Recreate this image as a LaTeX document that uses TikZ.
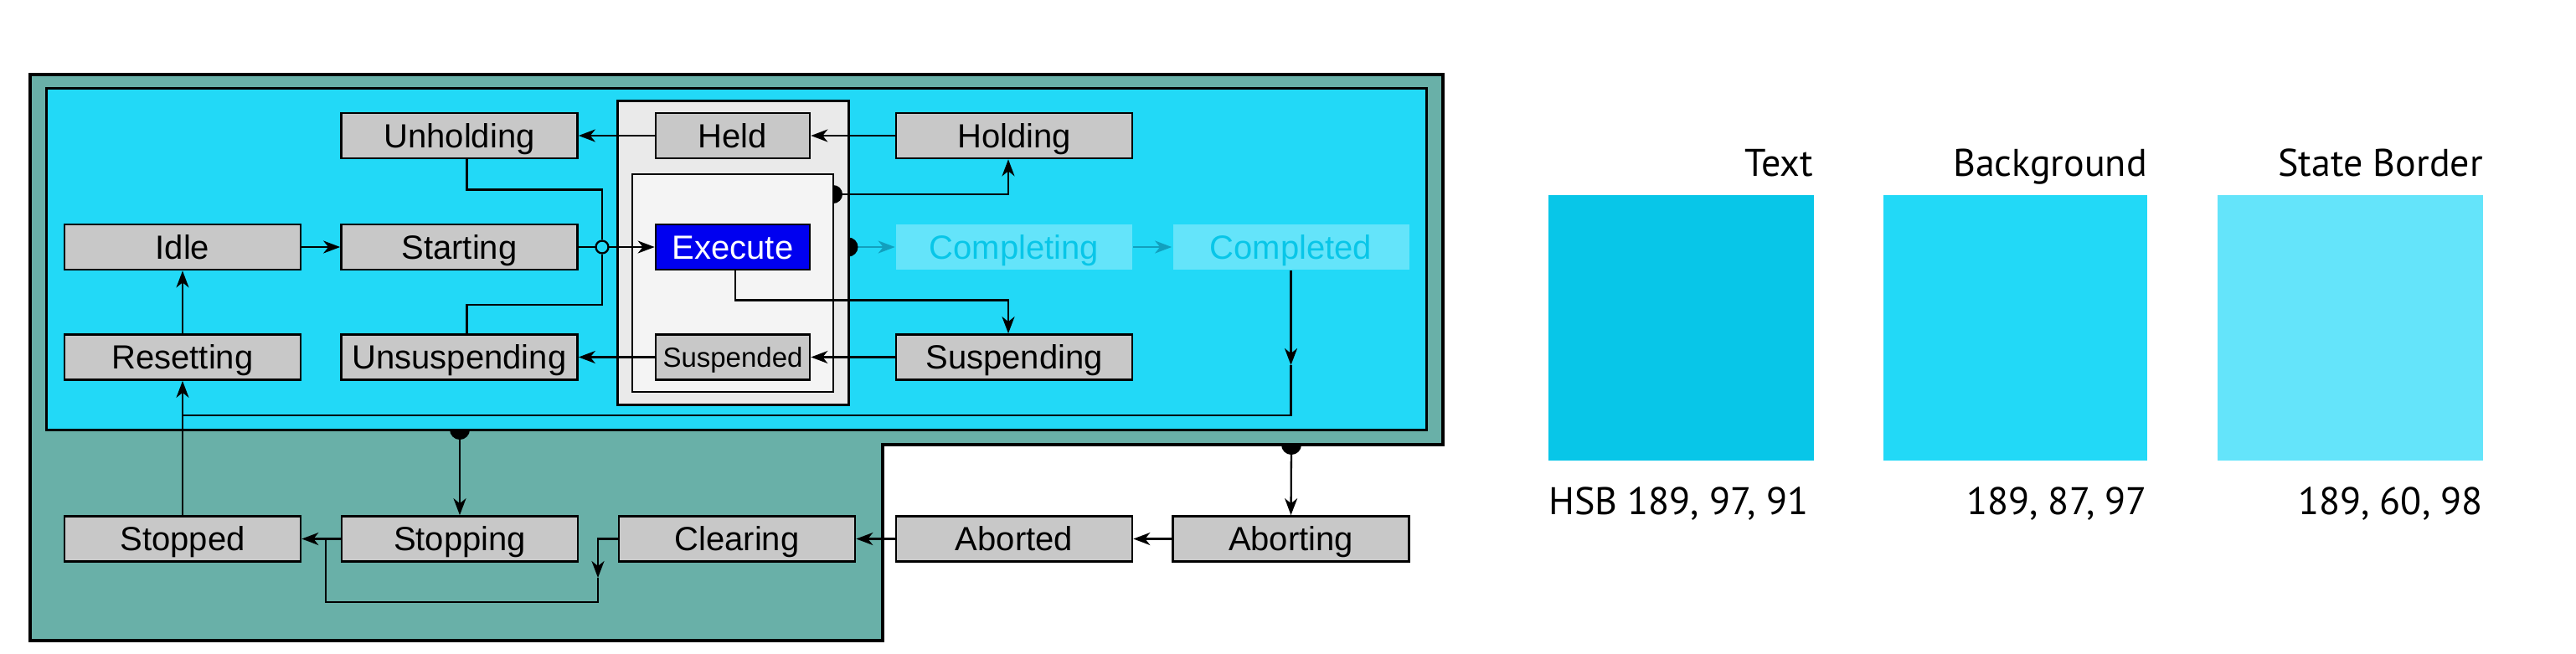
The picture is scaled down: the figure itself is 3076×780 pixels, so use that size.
\documentclass[tikz,border=0pt]{standalone}
\usepackage{fontspec}
\setmainfont{Liberation Sans}
\newfontfamily\legendfont{PT Sans}
\usetikzlibrary{arrows.meta}
\definecolor{teal1}{RGB}{105,176,168}
\definecolor{bgcyan}{RGB}{34,217,247}
\definecolor{txtcyan}{RGB}{8,198,232}
\definecolor{bordcyan}{RGB}{100,228,250}
\definecolor{arrcyan}{RGB}{18,160,190}
\definecolor{stgray}{RGB}{200,200,200}
\definecolor{boxA}{RGB}{234,234,234}
\definecolor{boxB}{RGB}{244,244,244}
\definecolor{exblue}{RGB}{0,0,240}
\begin{document}
\begin{tikzpicture}[x=1pt,y=-1pt,
  stbox/.style={draw=black, line width=2.7pt, fill=stgray, minimum width=282pt, minimum height=54pt,
    inner sep=0pt, text height=28.6pt, text depth=0pt, font=\fontsize{40}{48}\selectfont},
  narrowbox/.style={minimum width=184pt},
  ghost/.style={draw=none, fill=bordcyan, text=txtcyan},
  wire/.style={draw=black, line width=2.3pt},
  conn/.style={wire, -{Stealth[length=20pt,width=15pt,inset=6pt]}},
  cconn/.style={draw=arrcyan, line width=2.6pt, -{Stealth[length=20pt,width=15pt,inset=6pt]}},
  legtext/.style={font=\legendfont\fontsize{46}{54}\selectfont, inner sep=0pt},
  jcirc/.style={circle, draw=black, line width=2.3pt, fill=bgcyan, minimum size=15pt, inner sep=0pt}
]
\useasboundingbox (0,0) rectangle (3076,780);

% containers
\draw[line width=4.5pt, fill=teal1] (36,89) -- (1723,89) -- (1723,531) -- (1054,531) -- (1054,765) -- (36,765) -- cycle;
\draw[line width=3pt, fill=bgcyan] (55,105) rectangle (1703,513);
\draw[line width=3pt, fill=boxA] (737,120) rectangle (1013,483);
\draw[line width=2.5pt, fill=boxB] (755,208) rectangle (995,468);

% states
\node[stbox] (unholding) at (548.5,162) {Unholding};
\node[stbox,narrowbox] (held) at (875,162) {Held};
\node[stbox] (holding) at (1211,162) {Holding};
\node[stbox] (idle) at (218,295) {Idle};
\node[stbox] (starting) at (548.5,295) {Starting};
\node[stbox,narrowbox,fill=exblue,text=white] (execute) at (875,295) {Execute};
\node[stbox,ghost] (completing) at (1211,295) {Completing};
\node[stbox,ghost] (completed) at (1541.5,295) {Completed};
\node[stbox] (resetting) at (218,426.5) {Resetting};
\node[stbox] (unsuspending) at (548.5,426.5) {Unsuspending};
\node[stbox,narrowbox,font=\fontsize{33}{40}\selectfont,text height=23.6pt] (suspended) at (875,426.5) {Suspended};
\node[stbox] (suspending) at (1211,426.5) {Suspending};
\node[stbox] (stopped) at (218,643.5) {Stopped};
\node[stbox] (stopping) at (549,643.5) {Stopping};
\node[stbox] (clearing) at (880,643.5) {Clearing};
\node[stbox] (aborted) at (1211,643.5) {Aborted};
\node[stbox] (aborting) at (1541.5,643.5) {Aborting};

% marker points
\coordinate (mA) at (995,232);
\coordinate (mB) at (1013,295);
\coordinate (mC) at (549,513);
\coordinate (mD) at (1542,531);

% connectors
\draw[conn] (held) -- (unholding);
\draw[conn] (holding) -- (held);
\draw[conn] (idle) -- (starting);
\draw[conn] (suspending) -- (suspended);
\draw[conn] (suspended) -- (unsuspending);
\draw[conn] (starting) -- (execute);
\node[jcirc] (jn) at (719,295) {};
\draw[wire] ([xshift=9pt]unholding.south) -- ++(0,36) -| (jn.north);
\draw[wire] ([xshift=9pt]unsuspending.north) -- ++(0,-34) -| (jn.south);
\draw[conn] (mA) -| ([xshift=-7pt]holding.south);
\draw[conn] ([xshift=3pt]execute.south) -- ++(0,35) -| ([xshift=-7pt]suspending.north);
\draw[cconn] (mB) -- (completing);
\draw[cconn] (completing) -- (completed);
\coordinate (cmid) at (1541.5,436);
\coordinate (cbus) at (1541.5,496);
\coordinate (rbus) at (218,496);
\draw[conn] (completed.south) -- (cmid);
\draw[wire] (cmid) -- (cbus) -- (rbus);
\draw[conn] (stopped) -- (resetting);
\draw[conn] (resetting) -- (idle);
\draw[conn] (mC) -- (stopping.north);
\draw[conn] (mD) -- (aborting.north);
\draw[conn] (aborting) -- (aborted);
\draw[conn] (aborted) -- (clearing);
\draw[conn] (stopping) -- (stopped);
\coordinate (cl1) at (714,643.5);
\coordinate (cl2) at (714,690);
\coordinate (cl3) at (714,719);
\coordinate (cl4) at (389,719);
\coordinate (cl5) at (389,643.5);
\draw[conn] (clearing.west) -- (cl1) -- (cl2);
\draw[wire] (cl2) -- (cl3) -- (cl4) -- (cl5);

% half-disc markers
\begin{scope}\clip (995,200) rectangle (1030,265); \fill (mA) circle[radius=11]; \end{scope}
\begin{scope}\clip (1013,265) rectangle (1045,325); \fill (mB) circle[radius=11.5]; \end{scope}
\begin{scope}\clip (520,513) rectangle (580,545); \fill (mC) circle[radius=12]; \end{scope}
\begin{scope}\clip (1510,531) rectangle (1575,565); \fill (mD) circle[radius=12]; \end{scope}

% legend
\fill[txtcyan] (1849,233) rectangle (2166,550);
\fill[bgcyan] (2249,233) rectangle (2564,550);
\fill[bordcyan] (2648,233) rectangle (2965,550);
\node[legtext, anchor=base east] (lgA) at (2165,210) {Text};
\node[legtext, anchor=base east] (lgB) at (2564,210) {Background};
\node[legtext, anchor=base east] (lgC) at (2965,210) {State Border};
\node[legtext, anchor=base west] (lgD) at (1849,614) {HSB 189, 97, 91};
\node[legtext, anchor=base east] (lgE) at (2564,614) {189, 87, 97};
\node[legtext, anchor=base east] (lgF) at (2965,614) {189, 60, 98};
\end{tikzpicture}
\end{document}
